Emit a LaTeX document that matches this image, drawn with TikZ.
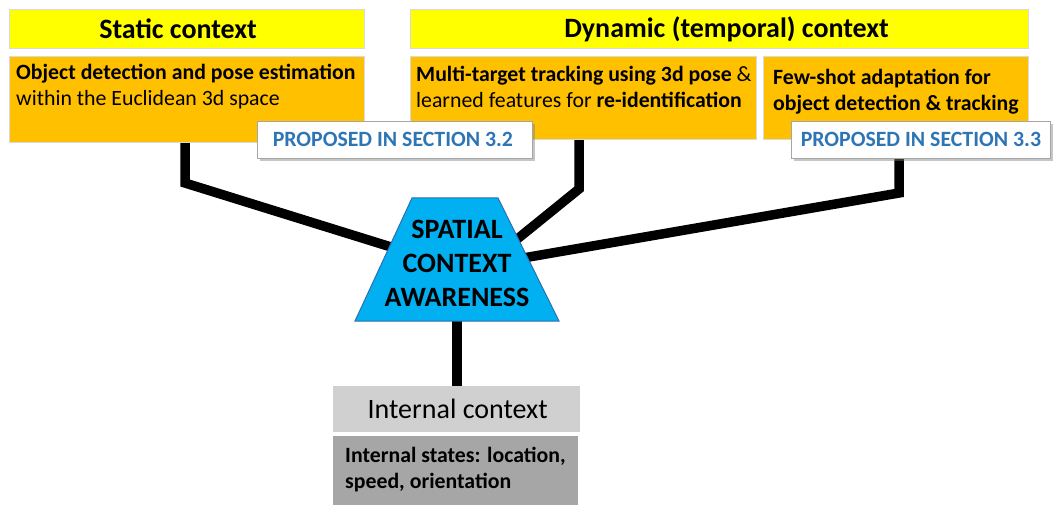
\documentclass[tikz,border=0pt]{standalone}
\usepackage{fontspec}
\setmainfont{Carlito}
\usetikzlibrary{shadows,backgrounds}
\definecolor{ylw}{HTML}{FFFF00}
\definecolor{org}{HTML}{FFC000}
\definecolor{sky}{HTML}{00B0F0}
\definecolor{skyline}{HTML}{2F6FAF}
\definecolor{lblblue}{HTML}{2E75B6}
\definecolor{lgray}{HTML}{D0D0D0}
\definecolor{dgray}{HTML}{A6A6A6}
\definecolor{edge}{HTML}{D9D9D9}
\tikzset{
  titlebox/.style={draw=edge, line width=1.2pt, fill=ylw, anchor=north west, inner sep=0pt},
  orangebox/.style={draw=edge, line width=1.2pt, fill=org, anchor=north west, inner sep=0pt},
  titletext/.style={font=\fontsize{28}{32}\selectfont\bfseries, inner sep=0pt},
  bodytext/.style={font=\fontsize{21.8}{26}\selectfont, inner sep=0pt, anchor=base west},
  lblbox/.style={draw=gray!70, line width=0.8pt, fill=white, anchor=north west, inner sep=0pt,
    drop shadow={shadow xshift=2.5pt, shadow yshift=-2.5pt, opacity=0.45, fill=gray}},
  lbltext/.style={font=\fontsize{21.8}{26}\selectfont\bfseries, text=lblblue, inner sep=0pt},
  conn/.style={line width=9.5pt, black},
  trapbox/.style={draw=skyline, line width=1pt, fill=sky},
  traptext/.style={font=\fontsize{28}{34}\selectfont\bfseries, inner sep=0pt, align=center},
}
\begin{document}
\begin{tikzpicture}[x=1pt,y=-1pt]
\useasboundingbox (0,0) rectangle (1054,505);
% title boxes
\node[titlebox, minimum width=355pt, minimum height=39pt] (stitle) at (9,9) {};
\node[titletext] (stitlet) at ([xshift=-9pt]stitle.center) {Static context};
\node[titlebox, minimum width=618pt, minimum height=39pt] (dtitle) at (410,9) {};
\node[titletext] (dtitlet) at ([xshift=7pt]dtitle.center) {Dynamic (temporal) context};
% orange boxes
\node[orangebox, minimum width=355pt, minimum height=86pt] (sbox) at (9,56) {};
\node[bodytext] (s1) at (16,80) {\bfseries Object detection and pose estimation};
\node[bodytext] (s2) at (16,106) {within the Euclidean 3d space};
\node[orangebox, minimum width=346pt, minimum height=83pt] (mbox) at (410,56) {};
\node[bodytext] (m1) at (416,82) {\textbf{Multi-target tracking using 3d pose} \&};
\node[bodytext] (m2) at (416,108) {learned features for \textbf{re-identification}};
\node[orangebox, minimum width=265pt, minimum height=83pt] (fbox) at (763,56) {};
\node[bodytext] (f1) at (773,85) {\bfseries Few-shot adaptation for};
\node[bodytext] (f2) at (773,111) {\bfseries object detection \& tracking};
% trapezoid
\coordinate (tl) at (412,198);
\coordinate (tr) at (498,198);
\coordinate (br) at (559,321);
\coordinate (bl) at (355,321);
\coordinate (tbot) at (457,321);
\draw[trapbox] (tl) -- (tr) -- (br) -- (bl) -- cycle;
\node[traptext] (trapt) at (457,263) {SPATIAL\\CONTEXT\\AWARENESS};
% labels
\node[lblbox, minimum width=275pt, minimum height=37pt] (l32) at (257,121) {};
\node[lbltext] (l32t) at ([xshift=-2pt]l32.center) {PROPOSED IN SECTION 3.2};
\node[lblbox, minimum width=259pt, minimum height=37pt] (l33) at (791,121) {};
\node[lbltext] (l33t) at (l33.center) {PROPOSED IN SECTION 3.3};
% internal context
\node[draw=none, fill=lgray, anchor=north west, minimum width=247pt, minimum height=46pt, inner sep=0pt] (ibox) at (333,386) {};
\node[font=\fontsize{28}{32}\selectfont, inner sep=0pt] (iboxt) at ([xshift=1pt]ibox.center) {Internal context};
\node[draw=none, fill=dgray, anchor=north west, minimum width=245pt, minimum height=70pt, inner sep=0pt] (ist) at (333,436) {};
\node[bodytext] (i1) at (345,462) {\bfseries Internal states: location,};
\node[bodytext] (i2) at (345,488) {\bfseries speed, orientation};
% connectors
\coordinate (cs) at (185,183);
\coordinate (cm) at (579,189);
\coordinate (cf) at (899,193);
\coordinate (es) at (420,256);
\coordinate (em) at (500,253);
\coordinate (ef) at (500,262);
\begin{pgfonlayer}{background}
\draw[conn] (sbox.south -| cs) -- (cs) -- (es);
\draw[conn] (mbox.south -| cm) -- (cm) -- (em);
\draw[conn] (l33.south -| cf) -- (cf) -- (ef);
\draw[conn] ([yshift=5pt]tbot) -- (ibox.north -| tbot);
\end{pgfonlayer}
\end{tikzpicture}
\end{document}
